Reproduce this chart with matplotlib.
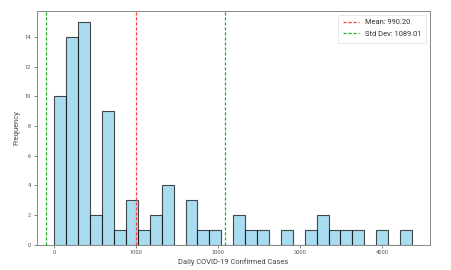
import matplotlib.pyplot as plt
import numpy as np

plt.rcParams['font.family'] = ['Roboto', 'DejaVu Sans']

# histogram of daily cases: 30 equal bins from 0 to ~4366
bin_start = 0
bin_stop = 4366
bin_counts = [10, 14, 15, 2, 9, 1, 3, 1, 2, 4,
              0, 3, 1, 1, 0, 2, 1, 1, 0, 1,
              0, 1, 2, 1, 1, 1, 0, 1, 0, 1]
mean_cases = 990.20
std_cases = 1089.01

edges = np.linspace(bin_start, bin_stop, len(bin_counts) + 1)
centers = (edges[:-1] + edges[1:]) / 2

fig = plt.figure(figsize=(4.52, 2.70), dpi=100)
ax = fig.add_axes([0.081, 0.093, 0.870, 0.867])

ax.hist(centers, bins=edges, weights=bin_counts, color='skyblue',
        edgecolor='black', linewidth=0.8, alpha=0.7)
pad = 0.05 * (bin_stop - bin_start)
ax.set_xlim(bin_start - pad, bin_stop + pad)
ax.set_ylim(0, max(bin_counts) * 1.05)

dash = (0, (2.5, 1.5))
ax.axvline(mean_cases, color='#ff3b3b', linestyle=dash, linewidth=0.9,
           label=f'Mean: {mean_cases:.2f}')
ax.axvline(mean_cases + std_cases, color='#22b022', linestyle=dash,
           linewidth=0.9, label=f'Std Dev: {std_cases:.2f}')
ax.axvline(mean_cases - std_cases, color='#22b022', linestyle=dash,
           linewidth=0.9)

ax.set_xticks([0, 1000, 2000, 3000, 4000])
ax.set_yticks(range(0, 15, 2))
ax.set_xlabel('Daily COVID-19 Confirmed Cases', fontsize=5.4, color='#444444', labelpad=2)
ax.set_ylabel('Frequency', fontsize=5.4, color='#444444', labelpad=3)
ax.tick_params(axis='both', labelsize=4.1, colors='#555555', length=2, width=0.5, pad=2)
for s in ax.spines.values():
    s.set_color('#888888')
    s.set_linewidth(0.7)

leg = ax.legend(fontsize=5.4, loc='upper right', handlelength=2.2,
                borderpad=0.6, labelspacing=0.6, framealpha=0.8)
leg.get_frame().set_linewidth(0.4)
for t in leg.get_texts():
    t.set_color('#333333')

fig.savefig('out.png', dpi=100)
